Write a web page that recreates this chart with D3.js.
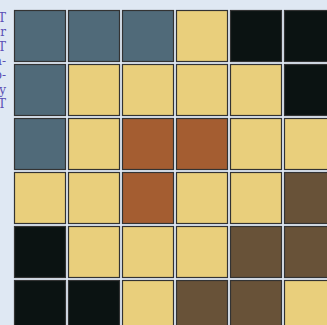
<!DOCTYPE html>
<html>
<head>
<meta charset="utf-8">
<script src="https://cdn.jsdelivr.net/npm/d3@7"></script>
<style>
  body { margin: 0; background: #dfe8f3; overflow: hidden; }
  svg { display: block; }
</style>
</head>
<body>
<svg width="327" height="325"></svg>
<script>
const svg = d3.select("svg");

const cols = ["c1", "c2", "c3", "c4", "c5", "c6"];
const rows = ["r1", "r2", "r3", "r4", "r5", "r6"];
const grid = [
  ["B", "B", "B", "Y", "D", "D"],
  ["B", "Y", "Y", "Y", "Y", "D"],
  ["B", "Y", "R", "R", "Y", "Y"],
  ["Y", "Y", "R", "Y", "Y", "N"],
  ["D", "Y", "Y", "Y", "N", "N"],
  ["D", "D", "Y", "N", "N", "Y"],
];
const kinds = ["B", "Y", "D", "R", "N"];
const kindColors = ["#506a79", "#e9cf7c", "#0b1312", "#a45d31", "#685238"];
const sideLabel = ["ST", "ar", "AT", "a-", "b-", "ay", "AT"];

const cells = [];
grid.forEach((row, i) => {
  row.forEach((k, j) => cells.push({ row: rows[i], col: cols[j], kind: k }));
});

const xScale = d3.scaleBand().domain(cols).range([14, 336]).paddingInner(2 / 54);
const yScale = d3.scaleBand().domain(rows).range([10, 332]).paddingInner(2 / 54);
const color = d3.scaleOrdinal().domain(kinds).range(kindColors);

svg.selectAll("rect.cell")
  .data(cells)
  .enter()
  .append("rect")
  .attr("class", "cell")
  .attr("x", (d) => xScale(d.col) + 0.5)
  .attr("y", (d) => yScale(d.row) + 0.5)
  .attr("width", xScale.bandwidth() - 1)
  .attr("height", yScale.bandwidth() - 1)
  .attr("fill", (d) => color(d.kind))
  .attr("stroke", "#333")
  .attr("stroke-width", 1.2);

// stacked label on the left edge, mostly cut off by the window
const labelY = d3.scalePoint().domain(d3.range(sideLabel.length)).range([22, 108]);

svg.selectAll("text.side")
  .data(sideLabel)
  .enter()
  .append("text")
  .attr("class", "side")
  .attr("x", 6)
  .attr("y", (d, i) => labelY(i))
  .attr("fill", "#5a4fb5")
  .attr("font-family", "DejaVu Serif")
  .attr("font-size", 12)
  .attr("text-anchor", "end")
  .text((d) => d);
</script>
</body>
</html>
